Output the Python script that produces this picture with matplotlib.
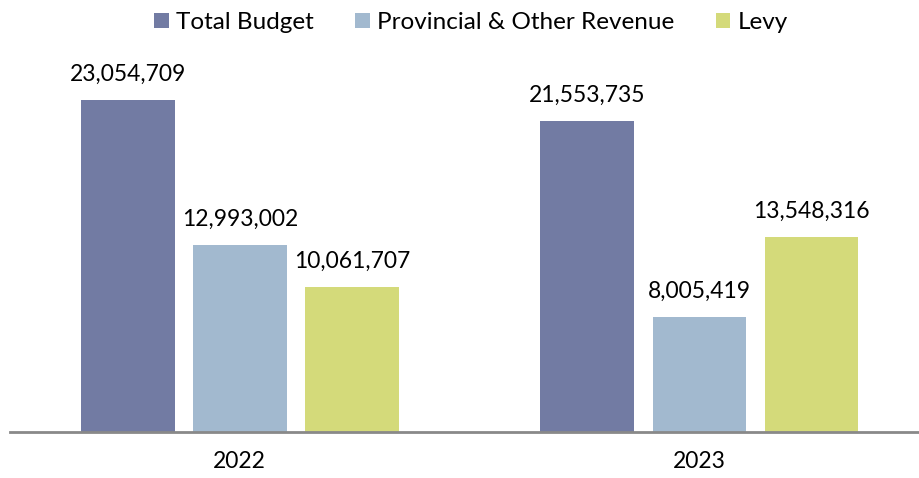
import numpy as np
import matplotlib
matplotlib.use("Agg")
import matplotlib.pyplot as plt

plt.rcParams["font.family"] = ["Lato", "DejaVu Sans"]

years = ["2022", "2023"]
series = ["Total Budget", "Provincial & Other Revenue", "Levy"]
total_budget = [23054709, 21553735]
provincial = [12993002, 8005419]
levy = [10061707, 13548316]
colors = ["#727BA3", "#A2B9CF", "#D4DA7A"]

fig = plt.figure(figsize=(9.2, 4.78), dpi=100)
ax = fig.add_axes([10 / 920, 46 / 478, 910 / 920, 392 / 478])

x = np.arange(len(years))
width = 0.204
step = 0.244
for i, (name, vals) in enumerate(zip(series, [total_budget, provincial, levy])):
    bars = ax.bar(x + (i - 1) * step, vals, width, color=colors[i], label=name)
    for b, v in zip(bars, vals):
        ax.annotate(f"{v:,}", (b.get_x() + b.get_width() / 2, v),
                    xytext=(0, 11), textcoords="offset points",
                    ha="center", va="bottom", fontsize=16.5)

ax.set_xlim(-0.5, 1.48)
ax.set_ylim(0, 27.2e6)
ax.set_xticks(x, years, fontsize=16.5)
ax.tick_params(axis="x", length=0, pad=14)
ax.set_yticks([])
for s in ["top", "right", "left"]:
    ax.spines[s].set_visible(False)
ax.spines["bottom"].set_color("#898989")
ax.spines["bottom"].set_linewidth(2)

fig.legend(loc="upper center", bbox_to_anchor=(0.512, 1.02), ncol=3, frameon=False,
           fontsize=17.5, handlelength=0.6, handleheight=0.6, handletextpad=0.3,
           columnspacing=1.7)

fig.savefig("out.png", dpi=100)
